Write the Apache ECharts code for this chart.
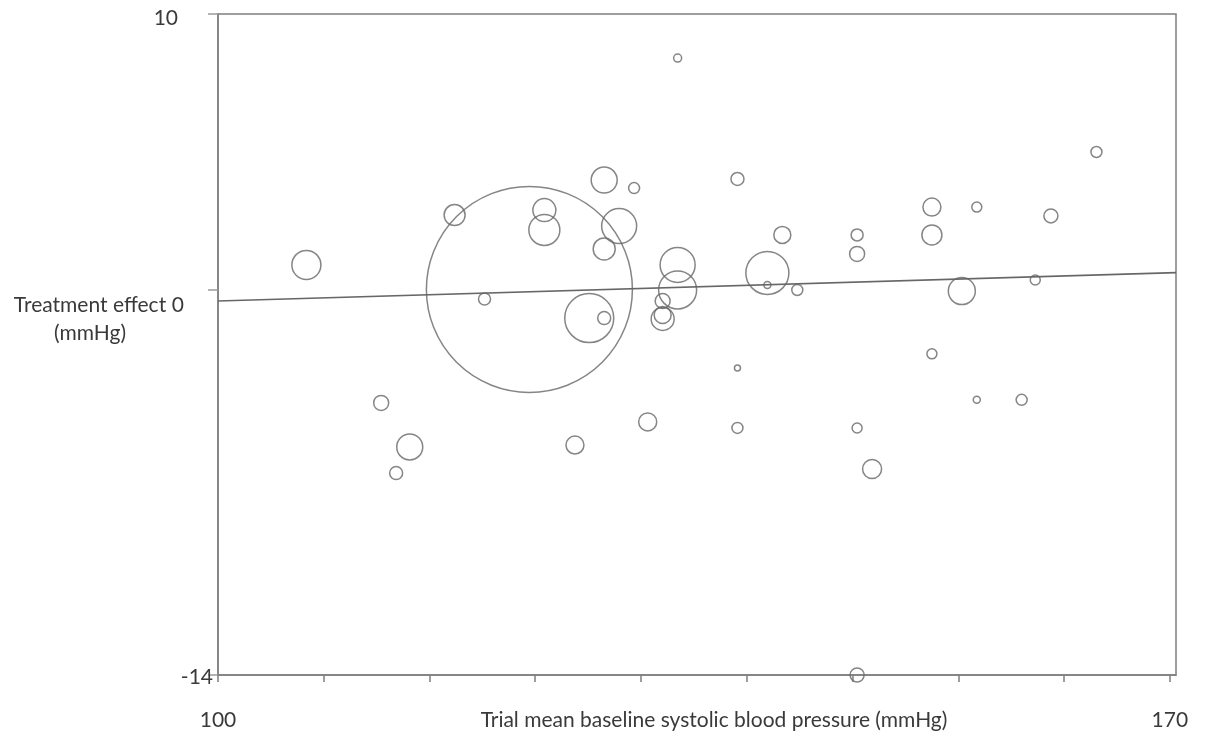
<!DOCTYPE html>
<html>
<head>
<meta charset="utf-8">
<title>Treatment effect vs baseline systolic blood pressure</title>
<script src="https://cdn.jsdelivr.net/npm/echarts@6/dist/echarts.min.js"></script>
<style>
  html, body { margin: 0; padding: 0; background: #fff; }
  #chart { width: 1214px; height: 738px; }
</style>
</head>
<body>
<div id="chart"></div>
<script>
// trial mean baseline SBP (mmHg)
const baselineSbp = [
  106.5, 117.4, 112.0, 114.1, 113.1, 119.6, 122.9, 124.0, 124.0, 128.4,
  130.6, 129.5, 128.4, 127.3, 128.4, 126.25, 131.6, 133.8, 133.8, 132.7,
  132.7, 132.7, 133.8, 138.2, 141.5, 147.0, 147.0, 140.4, 140.4, 142.6,
  138.2, 138.2, 147.0, 147.0, 148.1, 164.6, 152.5, 155.8, 161.25, 152.5,
  154.7, 160.1, 152.5, 155.8, 159.1
];
// treatment effect (mmHg)
const effect = [
  0.89, 2.70, -4.12, -5.72, -6.67, -0.35, 0.0, 2.88, 2.16, 3.97,
  3.68, 2.30, 1.47, -1.04, -1.04, -5.65, -4.81, 0.89, -0.02, -0.42,
  -1.07, -0.93, 8.40, 4.01, 1.98, 1.98, 1.29, 0.60, 0.16, -0.02,
  -2.85, -5.03, -5.03, -14.0, -6.52, 4.99, 2.99, 2.99, 2.67, 1.98,
  -0.06, 0.34, -2.34, -4.01, -4.01
];
// trial weight (bubble area, arbitrary units)
const weight = [
  8.41, 4.41, 2.25, 6.76, 1.69, 1.44, 424.4, 5.29, 9.61, 6.76,
  1.21, 12.25, 4.84, 24.0, 1.69, 3.24, 3.24, 12.25, 14.44, 2.25,
  5.29, 2.89, 0.64, 1.69, 2.89, 1.44, 2.25, 18.5, 0.49, 1.21,
  0.36, 1.21, 1.0, 1.96, 3.61, 1.21, 3.24, 1.0, 1.96, 4.0,
  7.29, 1.0, 1.0, 0.49, 1.21
];
// fitted meta-regression line, ends at the plot edges
const fitLine = [[100, -0.42], [170.45, 0.61]];

const xTicks = [100, 107.78, 115.56, 123.33, 131.11, 138.89, 146.67, 154.44, 162.22, 170];
const xLabels = [100, 170];
const yTicks = [-14, 0, 10];

const ink = '#676767';
const textColor = '#3a3a3a';
const font = 'Lato, "Open Sans", sans-serif';
const fs = 21;

const points = baselineSbp.map((x, i) => [x, effect[i], weight[i]]);

function createChart(element, option) {
  let myChart = echarts.init(element);
  myChart.setOption(option);
  return myChart;
}

createChart(document.getElementById('chart'), {
  animation: false,
  backgroundColor: '#fff',
  textStyle: { fontFamily: font },
  grid: {
    left: 218, right: 38, top: 14, bottom: 63,
    outerBoundsMode: 'none',
    containLabel: false,
    show: true, borderColor: '#7f7f7f', borderWidth: 1.5
  },
  xAxis: {
    type: 'value',
    min: 100,
    max: 170.45,
    name: 'Trial mean baseline systolic blood pressure (mmHg)',
    nameLocation: 'middle',
    nameGap: 35,
    nameMoveOverlap: false,
    nameTextStyle: { color: textColor, fontSize: fs, fontFamily: font, padding: [0, 0, 0, 34] },
    axisLine: { onZero: false, lineStyle: { color: '#7f7f7f', width: 1.5 } },
    axisTick: { show: true, length: 7, customValues: xTicks, lineStyle: { color: '#7f7f7f', width: 1.5 } },
    axisLabel: { customValues: xLabels, margin: 35, color: textColor, fontSize: fs, fontFamily: font },
    splitLine: { show: false }
  },
  yAxis: {
    type: 'value',
    min: -14,
    max: 10,
    name: 'Treatment effect\n(mmHg)',
    nameLocation: 'middle',
    nameRotate: 0,
    nameGap: 128,
    nameMoveOverlap: false,
    nameTextStyle: {
      color: textColor, fontSize: fs, fontFamily: font, lineHeight: 28,
      align: 'center', verticalAlign: 'bottom', padding: [0, 0, -3, 0]
    },
    axisLine: { onZero: false, lineStyle: { color: '#7f7f7f', width: 1.5 } },
    axisTick: { show: true, length: 10, customValues: yTicks, lineStyle: { color: '#9a9a9a', width: 1.5 } },
    axisLabel: {
      customValues: yTicks,
      margin: 4,
      color: textColor,
      fontSize: fs,
      fontFamily: font,
      formatter: v => v === 10 ? '{top|10}' : v === 0 ? '{mid|0}' : '{bot|' + v + '}',
      rich: {
        top: { fontSize: fs, fontFamily: font, color: textColor, padding: [8, 36, 0, 0] },
        mid: { fontSize: fs, fontFamily: font, color: textColor, padding: [32, 30, 0, 0] },
        bot: { fontSize: fs, fontFamily: font, color: textColor, padding: [4, 1, 0, 0] }
      }
    },
    splitLine: { show: false }
  },
  series: [
    {
      type: 'scatter',
      data: points,
      clip: false,
      symbol: 'circle',
      symbolSize: val => Math.sqrt(val[2]) * 10,
      itemStyle: { color: 'rgba(0,0,0,0)', borderColor: ink, borderWidth: 1.5 },
      emphasis: { disabled: true }
    },
    {
      type: 'line',
      data: fitLine,
      showSymbol: false,
      symbol: 'none',
      lineStyle: { color: ink, width: 1.6 },
      z: 3
    }
  ]
});
</script>
</body>
</html>
